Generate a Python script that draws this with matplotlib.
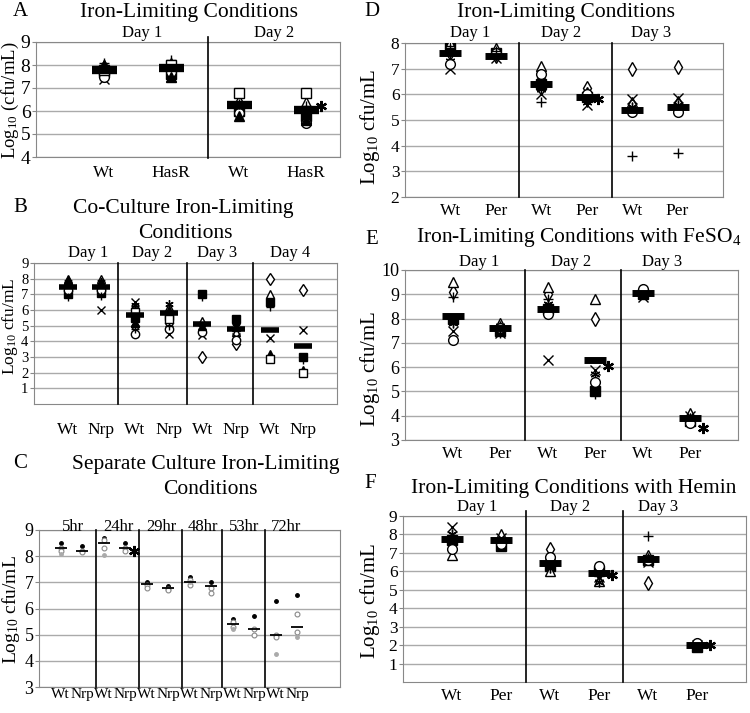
import numpy as np
import matplotlib
matplotlib.use('Agg')
import matplotlib.pyplot as plt

plt.rcParams['font.family'] = ['Liberation Serif', 'DejaVu Serif']
plt.rcParams['mathtext.fontset'] = 'custom'
plt.rcParams['mathtext.rm'] = 'Liberation Serif'
plt.rcParams['mathtext.it'] = 'Liberation Serif:italic'

W, H = 750, 713
nan = np.nan

# ---------------- data (each replicate is one series across categories) ----------------
# A: Iron-limiting, Wt vs HasR
a_cats = ['Wt', 'HasR', 'Wt', 'HasR']
a_days = ['Day 1', 'Day 2']
a_reps = [
    [7.9, 7.9, 6.3, 6.1],
    [7.7, 7.6, 6.0, 5.8],
    [8.0, 8.1, 6.5, 6.4],
    [7.4, 7.5, 6.1, 5.9],
    [7.6, 7.9, 6.2, 6.0],
    [7.5, 7.7, 5.9, 5.5],
    [8.1, 8.2, 6.3, 6.2],
    [7.9, 7.5, 5.8, 5.6],
    [7.8, 8.0, 6.8, 6.8],
]
a_means = [7.8, 7.85, 6.25, 6.05]
a_stars = [(4, 6.2)]

# B: Co-culture, Wt vs Nrp
b_cats = ['Wt', 'Nrp', 'Wt', 'Nrp', 'Wt', 'Nrp', 'Wt', 'Nrp']
b_days = ['Day 1', 'Day 2', 'Day 3', 'Day 4']
b_reps = [
    [7.6, 7.5, 5.0, 5.2, 3.0, 3.8, 8.0, 7.3],
    [7.0, 7.1, 5.5, 5.6, 7.0, 5.4, 6.5, 3.0],
    [8.0, 8.0, 6.0, 6.2, 5.3, 4.6, 7.0, nan],
    [7.2, 6.0, 6.5, 4.5, 4.4, 4.3, 4.2, 4.7],
    [7.8, 7.8, 6.3, 6.4, 4.9, 5.0, nan, nan],
    [7.3, 7.3, 4.5, 4.8, 4.6, 4.1, nan, nan],
    [6.8, 6.9, 4.8, 5.0, 6.8, 5.1, 6.2, 2.8],
    [7.9, 7.8, 5.2, 6.0, 5.0, 4.9, 3.2, 2.2],
    [nan, nan, 5.9, 5.4, nan, nan, 2.9, 2.0],
]
b_means = [7.5, 7.5, 5.7, 5.8, 5.1, 4.8, 4.7, 3.7]

# C: Separate culture, Wt vs Nrp over time
c_cats = ['Wt', 'Nrp'] * 6
c_times = ['5hr', '24hr', '29hr', '48hr', '53hr', '72hr']
c_reps = [
    [8.5, 8.4, 8.7, 8.5, 7.0, 6.85, 7.2, 7.0, 5.6, 5.7, 6.3, 6.5],
    [8.3, 8.2, 8.6, 8.3, 6.9, 6.75, 7.1, 6.8, 5.5, 5.2, 5.0, 5.8],
    [8.2, 8.15, 8.3, 8.2, 6.8, 6.7, 6.9, 6.6, 5.3, 5.0, 4.9, 5.1],
    [8.1, nan, 8.05, nan, nan, nan, 7.0, nan, 5.2, nan, 4.25, 4.9],
]
c_means = [8.3, 8.2, 8.5, 8.3, 6.95, 6.8, 7.0, 6.85, 5.4, 5.2, 5.0, 5.3]
c_stars = [(4, 8.2)]

# D: Iron-limiting, Wt vs Per
d_cats = ['Wt', 'Per'] * 3
d_days = ['Day 1', 'Day 2', 'Day 3']
d_reps = [
    [7.6, 7.5, 6.6, 6.25, 7.0, 7.05],
    [7.8, 7.6, 6.4, 5.9, nan, nan],
    [8.0, 7.8, 7.1, 6.1, 5.7, 5.75],
    [7.0, 7.4, 6.0, 5.6, 5.8, 5.85],
    [7.3, 7.5, 6.2, 5.7, 5.5, 5.6],
    [7.2, 7.6, 6.8, 6.0, 5.3, 5.3],
    [7.9, 7.7, 5.7, 5.8, 3.6, 3.7],
]
d_means = [7.6, 7.5, 6.4, 5.9, 5.4, 5.5]
d_stars = [(4, 5.8)]

# E: Iron-limiting with FeSO4
e_reps = [
    [9.1, 7.6, 9.0, 8.0, 9.1, 3.9],
    [8.0, 7.5, 8.4, 5.0, 9.0, 3.8],
    [9.5, 7.8, 9.3, 8.8, 9.2, 4.1],
    [7.5, 7.4, 6.3, 5.9, 8.9, 4.0],
    [7.8, 7.7, 8.6, 5.7, 9.0, 3.9],
    [7.1, 7.6, 8.2, 5.4, 9.2, 3.7],
    [8.9, 7.4, 8.8, 4.9, nan, nan],
]
e_means = [8.1, 7.6, 8.4, 6.3, 9.05, 3.9]
e_stars = [(4, 6.05), (6, 3.5)]

# F: Iron-limiting with Hemin
f_reps = [
    [7.5, 7.7, 7.2, 5.9, 5.35, 2.0],
    [7.7, 7.4, 6.3, 6.0, 6.6, 1.9],
    [6.9, 8.0, 6.0, 5.5, 6.9, 2.1],
    [8.4, 7.8, 6.4, 5.7, 6.5, 2.0],
    [8.0, 7.6, 6.2, 5.4, 6.7, 2.0],
    [7.2, 7.5, 6.8, 6.3, 6.6, 2.1],
    [nan, nan, nan, nan, 7.9, nan],
]
f_means = [7.75, 7.7, 6.45, 5.9, 6.65, 2.0]
f_stars = [(4, 5.8), (6, 2.0)]

# ---------------- drawing ----------------
STYLES = [
    dict(marker='d', mfc='white', mec='black', mew=1),
    dict(marker='s', mfc='black', mec='black'),
    dict(marker='^', mfc='white', mec='black', mew=1),
    dict(marker='x', color='black', mew=1),
    dict(marker=(6, 2, 0), color='black', mew=1),
    dict(marker='o', mfc='white', mec='black', mew=1),
    dict(marker='+', color='black', mew=1),
    dict(marker='^', mfc='black', mec='black'),
    dict(marker='s', mfc='white', mec='black', mew=1),
]
C_STYLES = [
    dict(marker='o', color='black', ms=2.5),
    dict(marker='o', mfc='white', mec='#888888', ms=3.5, mew=0.8),
    dict(marker='o', mfc='white', mec='#888888', ms=3.5, mew=0.8),
    dict(marker='o', mfc='#aaaaaa', mec='#aaaaaa', ms=2.5),
]

fig = plt.figure(figsize=(W / 100, H / 100), dpi=100)


def fx(x):
    return x / W


def fy(y):
    return 1 - y / H


def panel(box, cats, reps, means, xmax, ylim, yticks, divs, groups, group_x, group_y,
          tick_fs, lab_fs, lab_pad, stars=(), star_dx=0.27, ms=7, styles=STYLES,
          mean_ms=16, mean_mew=5, div_ext=(0, 1)):
    l, t, r, b = box
    ax = fig.add_axes([fx(l), fy(b), fx(r - l), (b - t) / H])
    x = np.arange(1, len(cats) + 1)
    for i, rep in enumerate(reps):
        st = dict(styles[i % len(styles)])
        st.setdefault('ms', ms)
        ax.plot(x, rep, ls='none', zorder=3, **st)
    ax.plot(x, means, ls='none', marker='_', ms=mean_ms, mew=mean_mew, color='black', zorder=4)
    for si, sy in stars:
        ax.plot(si + star_dx, sy, ls='none', marker=(6, 2, 0), ms=8, mew=1.6, color='black',
                zorder=4, clip_on=False)
    ax.set_xlim(0, xmax)
    ax.set_ylim(*ylim)
    ax.set_yticks(yticks)
    ax.yaxis.grid(True, color='#aaaaaa', lw=1)
    ax.set_axisbelow(True)
    for s in ax.spines.values():
        s.set_color('#888888')
    ax.set_xticks(x, cats)
    ax.tick_params(axis='x', length=0, pad=lab_pad, labelsize=lab_fs)
    ax.tick_params(axis='y', labelsize=tick_fs, length=3, color='#888888', pad=1)
    for d in divs:
        ax.plot([d, d], div_ext, transform=ax.get_xaxis_transform(), color='black', lw=1.2,
                clip_on=False, zorder=5)
    gy = (b - group_y) / (b - t)
    for g, gx in zip(groups, group_x):
        ax.text(gx, gy, g, transform=ax.get_xaxis_transform(), ha='center', va='center',
                fontsize=12)
    return ax


# A
panel((36, 42, 340, 157), a_cats, a_reps, a_means, 4.5, (4, 9), range(4, 10), [2.54],
      a_days, [1.57, 3.53], 33, 14, 12.5, 6, stars=a_stars, star_dx=0.22,
      mean_ms=18, mean_mew=6, div_ext=(-0.01, 1.045))
# B
panel((34, 263, 337, 404), b_cats, b_reps, b_means, 9, (0, 9), range(1, 10), [2.5, 4.54, 6.5],
      b_days, [1.6, 3.5, 5.45, 7.6], 253, 10.5, 12.5, 13, ms=6, mean_ms=13, mean_mew=4)
# C
panel((39, 530, 340, 687), c_cats, c_reps, c_means, 14, (3, 9), range(3, 10),
      [2.65, 4.63, 6.63, 8.53, 10.49], c_times, [1.56, 3.7, 5.7, 7.6, 9.56, 11.47], 527,
      13, 11, 1, stars=c_stars, star_dx=0.4, styles=C_STYLES, mean_ms=8, mean_mew=1.3)
# D
panel((405, 43, 723, 197), d_cats, d_reps, d_means, 7, (2, 8), range(2, 9), [2.5, 4.55],
      d_days, [1.43, 3.43, 5.41], 33, 12.5, 12.5, 4, stars=d_stars, star_dx=0.24)
# E
panel((405, 270, 738, 440), d_cats, e_reps, e_means, 7, (3, 10), range(3, 11), [2.53, 4.55],
      d_days, [1.55, 3.5, 5.4], 262, 13, 12.5, 4, stars=e_stars)
# F
panel((403, 516, 746, 682), d_cats, f_reps, f_means, 7, (0, 9), range(1, 10), [2.5, 4.5],
      d_days, [1.51, 3.4, 5.2], 507, 12.5, 12.5, 4, stars=f_stars, div_ext=(0, 1.03))

# titles, panel letters, y labels
TFS = 15.5
fig.text(fx(189), fy(12), 'Iron-Limiting Conditions', ha='center', va='center', fontsize=TFS)
fig.text(fx(183), fy(208), 'Co-Culture Iron-Limiting', ha='center', va='center', fontsize=TFS)
fig.text(fx(185), fy(233), 'Conditions', ha='center', va='center', fontsize=TFS)
fig.text(fx(206), fy(465), 'Separate Culture Iron-Limiting', ha='center', va='center', fontsize=TFS)
fig.text(fx(210), fy(490), 'Conditions', ha='center', va='center', fontsize=TFS)
fig.text(fx(566), fy(12), 'Iron-Limiting Conditions', ha='center', va='center', fontsize=TFS)
fig.text(fx(579), fy(238), r'Iron-Limiting Conditions with FeSO$_4$', ha='center', va='center',
         fontsize=TFS)
fig.text(fx(574), fy(489), 'Iron-Limiting Conditions with Hemin', ha='center', va='center',
         fontsize=TFS)

for letter, lx, ly in [('A', 20, 12), ('B', 20, 208), ('C', 20, 464),
                       ('D', 372, 12), ('E', 372, 240), ('F', 370, 484)]:
    fig.text(fx(lx), fy(ly), letter, ha='center', va='center', fontsize=15)

for lab, lx, ly, fs in [(r'Log$_{10}$ (cfu/mL)', 10, 100, 13.5),
                        (r'Log$_{10}$ cfu/mL', 10, 326, 12.5),
                        (r'Log$_{10}$ cfu/mL', 11, 610, 14),
                        (r'Log$_{10}$ cfu/mL', 370, 127, 15),
                        (r'Log$_{10}$ cfu/mL', 370, 369, 15),
                        (r'Log$_{10}$ cfu/mL', 370, 601, 15)]:
    fig.text(fx(lx), fy(ly), lab, ha='center', va='center', rotation=90, fontsize=fs)

fig.savefig('out.png', dpi=100)
